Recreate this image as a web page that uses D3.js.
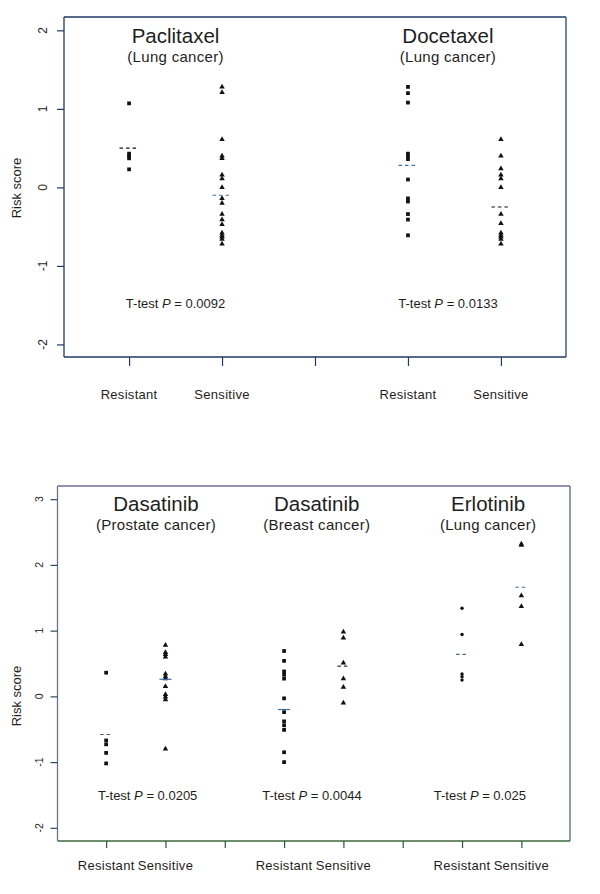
<!DOCTYPE html>
<html><head><meta charset="utf-8">
<script src="https://cdn.jsdelivr.net/npm/d3@7"></script>
<style>
html,body{margin:0;padding:0;background:#fff;}
svg{display:block;font-family:"Liberation Sans",Arial,sans-serif;}
</style></head>
<body>
<svg id="chart" width="600" height="894"></svg>
<script>
// ---------- DATA ----------
const groupLabels = ["Resistant", "Sensitive"];
const drugs = ["Paclitaxel", "Docetaxel", "Dasatinib", "Dasatinib", "Erlotinib"];
const cancers = ["(Lung cancer)", "(Lung cancer)", "(Prostate cancer)", "(Breast cancer)", "(Lung cancer)"];
const pValues = ["0.0092", "0.0133", "0.0205", "0.0044", "0.025"];

const paclitaxelResistant = [1.07, 0.43, 0.40, 0.37, 0.23];
const paclitaxelSensitive = [1.28, 1.21, 0.61, 0.40, 0.37, 0.16, 0.11, 0.00, -0.14, -0.20, -0.34, -0.41, -0.47, -0.58, -0.61, -0.63, -0.66, -0.72];
const docetaxelResistant = [1.28, 1.20, 1.08, 0.43, 0.40, 0.36, 0.10, -0.14, -0.18, -0.34, -0.41, -0.61];
const docetaxelSensitive = [0.61, 0.40, 0.24, 0.16, 0.11, 0.00, -0.34, -0.46, -0.58, -0.61, -0.63, -0.66, -0.72];
const dasatinibProstateResistant = [0.36, -0.67, -0.73, -0.86, -1.02];
const dasatinibProstateSensitive = [0.78, 0.67, 0.64, 0.60, 0.34, 0.30, 0.27, 0.15, 0.03, -0.01, -0.05, -0.80];
const dasatinibBreastResistant = [0.69, 0.54, 0.38, 0.33, 0.27, -0.03, -0.24, -0.38, -0.44, -0.51, -0.85, -1.00];
const dasatinibBreastSensitive = [0.98, 0.89, 0.51, 0.27, 0.14, -0.10];
const erlotinibResistant = [1.34, 0.94, 0.34, 0.30, 0.25];
const erlotinibSensitive = [2.32, 2.30, 1.53, 1.37, 0.79];

const topMeans = [0.50, -0.10, 0.28, -0.25];
const bottomMeans = [-0.58, 0.26, -0.20, 0.46, 0.64, 1.66];

const yTicksTop = [-2, -1, 0, 1, 2];
const yTicksBottom = [-2, -1, 0, 1, 2, 3];
const xTicksTop = [1, 2, 3, 4, 5];
const xTicksBottom = [1, 2, 3, 4, 5, 6, 7, 8];

// ---------- LAYOUT / STYLE ----------
const svg = d3.select("#chart");
const textColor = "#1e1e1e";

const panels = [
  {
    box: {x0: 64, x1: 566, y0: 17, y1: 357},
    xDomain: [0.3, 5.7], yDomain: [-2.16, 2.17],
    yTicks: yTicksTop, xTicks: xTicksTop, tickFont: 12, yLabelX: 47, yTickLen: 7, xTickLen: 9,
    xLabelY: 399, yTitle: {x: 21, y: 188},
    borders: {left: "#1f3866", top: "#1f3866", right: "#2a4676", bottom: "#1f3866"},
    tickColor: "#1f3866",
    groups: [
      {pos: 1, vals: paclitaxelResistant, shape: "square", mean: topMeans[0], dash: "#111", dw: 19},
      {pos: 2, vals: paclitaxelSensitive, shape: "triangle", mean: topMeans[1], dash: "#3f6e9e", dw: 19},
      {pos: 4, vals: docetaxelResistant, shape: "square", mean: topMeans[2], dash: "#3f6e9e", dw: 19},
      {pos: 5, vals: docetaxelSensitive, shape: "triangle", mean: topMeans[3], dash: "#111", dw: 19}
    ],
    titles: [
      {i: 0, x: 1.5, ty: 43, sy: 61.5, py: 308},
      {i: 1, x: 4.43, ty: 43, sy: 61.5, py: 308}
    ],
    pxs: [1.5, 4.43]
  },
  {
    box: {x0: 57.5, x1: 570, y0: 486, y1: 841},
    xDomain: [0.18, 8.82], yDomain: [-2.2, 3.2],
    yTicks: yTicksBottom, xTicks: xTicksBottom, tickFont: 10.5, yLabelX: 43, yTickLen: 7, xTickLen: 7,
    xLabelY: 870, yTitle: {x: 21, y: 696},
    borders: {left: "#6d6d96", top: "#6d6d96", right: "#52668f", bottom: "#3e6a3e"},
    tickColor: "#2f4f4f",
    groups: [
      {pos: 1, vals: dasatinibProstateResistant, shape: "square", mean: bottomMeans[0], dash: "#45597a", dw: 12},
      {pos: 2, vals: dasatinibProstateSensitive, shape: "triangle", mean: bottomMeans[1], dash: "#3f6e9e", dw: 12, solid: true},
      {pos: 4, vals: dasatinibBreastResistant, shape: "square", mean: bottomMeans[2], dash: "#3f6e9e", dw: 12, solid: true},
      {pos: 5, vals: dasatinibBreastSensitive, shape: "triangle", mean: bottomMeans[3], dash: "#333", dw: 12},
      {pos: 7, vals: erlotinibResistant, shape: "dot", mean: bottomMeans[4], dash: "#4a6a9a", dw: 12},
      {pos: 8, vals: erlotinibSensitive, shape: "triangle", mean: bottomMeans[5], dash: "#4a6a9a", dw: 12}
    ],
    titles: [
      {i: 2, x: 1.84, ty: 511, sy: 529.5, py: 800},
      {i: 3, x: 4.55, ty: 511, sy: 529.5, py: 800},
      {i: 4, x: 7.44, ty: 511, sy: 529.5, py: 800}
    ],
    pxs: [1.70, 4.47, 7.30]
  }
];

panels.forEach(p => {
  const g = svg.append("g");
  const x = d3.scaleLinear().domain(p.xDomain).range([p.box.x0, p.box.x1]);
  const y = d3.scaleLinear().domain(p.yDomain).range([p.box.y1, p.box.y0]);

  // frame
  const b = p.box;
  g.append("line").attr("x1", b.x0).attr("x2", b.x1).attr("y1", b.y0).attr("y2", b.y0).attr("stroke", p.borders.top).attr("stroke-width", 1.3);
  g.append("line").attr("x1", b.x1).attr("x2", b.x1).attr("y1", b.y0).attr("y2", b.y1).attr("stroke", p.borders.right).attr("stroke-width", 1.3);
  g.append("line").attr("x1", b.x0).attr("x2", b.x1).attr("y1", b.y1).attr("y2", b.y1).attr("stroke", p.borders.bottom).attr("stroke-width", 1.3);
  g.append("line").attr("x1", b.x0).attr("x2", b.x0).attr("y1", b.y0).attr("y2", b.y1).attr("stroke", p.borders.left).attr("stroke-width", 1.3);

  // y axis ticks via d3 axis
  const yAxis = d3.axisLeft(y).tickValues(p.yTicks).tickSize(p.yTickLen).tickFormat(d3.format("d"));
  const ya = g.append("g").attr("transform", `translate(${b.x0},0)`).call(yAxis);
  ya.select(".domain").remove();
  ya.selectAll(".tick line").attr("stroke", p.tickColor).attr("stroke-width", 1.2);
  ya.selectAll(".tick text").remove();
  g.selectAll(null).data(p.yTicks).join("text")
    .attr("transform", d => `translate(${p.yLabelX},${y(d)}) rotate(-90)`)
    .attr("text-anchor", "middle")
    .attr("font-size", p.tickFont).attr("fill", textColor)
    .text(d => String(d));

  // x axis ticks
  const xAxis = d3.axisBottom(x).tickValues(p.xTicks).tickSize(p.xTickLen).tickFormat("");
  const xa = g.append("g").attr("transform", `translate(0,${b.y1})`).call(xAxis);
  xa.select(".domain").remove();
  xa.selectAll(".tick line").attr("stroke", p.tickColor).attr("stroke-width", 1.2);

  // x labels
  p.groups.forEach((gr, k) => {
    g.append("text").attr("x", x(gr.pos)).attr("y", p.xLabelY)
      .attr("text-anchor", "middle").attr("font-size", 13).attr("letter-spacing", 0.3)
      .attr("fill", textColor).text(groupLabels[k % 2]);
  });

  // y title
  g.append("text").attr("transform", `translate(${p.yTitle.x},${p.yTitle.y}) rotate(-90)`)
    .attr("text-anchor", "middle").attr("font-size", 13).attr("fill", textColor).text("Risk score");

  // titles
  p.titles.forEach((t, k) => {
    g.append("text").attr("x", x(t.x)).attr("y", t.ty).attr("text-anchor", "middle")
      .attr("font-size", 20.5).attr("fill", textColor).text(drugs[t.i]);
    g.append("text").attr("x", x(t.x)).attr("y", t.sy).attr("text-anchor", "middle")
      .attr("font-size", 15).attr("letter-spacing", 0.3).attr("fill", textColor).text(cancers[t.i]);
    const pt = g.append("text").attr("x", x(p.pxs[k])).attr("y", t.py).attr("text-anchor", "middle")
      .attr("font-size", 13).attr("fill", textColor);
    pt.append("tspan").text("T-test ");
    pt.append("tspan").attr("font-style", "italic").text("P");
    pt.append("tspan").text(" = " + pValues[t.i]);
  });

  // points
  p.groups.forEach(gr => {
    const cx = x(gr.pos);
    const sym = gr.shape === "square" ? d3.symbolSquare : d3.symbolTriangle;
    if (gr.shape === "dot") {
      g.selectAll(null).data(gr.vals).join("circle")
        .attr("cx", cx).attr("cy", d => y(d)).attr("r", 1.7).attr("fill", "#111");
    } else {
      const size = gr.shape === "square" ? 14 : 13;
      g.selectAll(null).data(gr.vals).join("path")
        .attr("d", d3.symbol().type(sym).size(size))
        .attr("transform", d => `translate(${cx},${y(d)})`)
        .attr("fill", "#111");
    }
    // mean line
    g.append("line").attr("x1", cx - gr.dw / 2).attr("x2", cx + gr.dw / 2)
      .attr("y1", y(gr.mean)).attr("y2", y(gr.mean))
      .attr("stroke", gr.dash).attr("stroke-width", 1.2)
      .attr("stroke-dasharray", gr.solid ? null : "3.5,3");
  });
});
</script>
</body></html>
